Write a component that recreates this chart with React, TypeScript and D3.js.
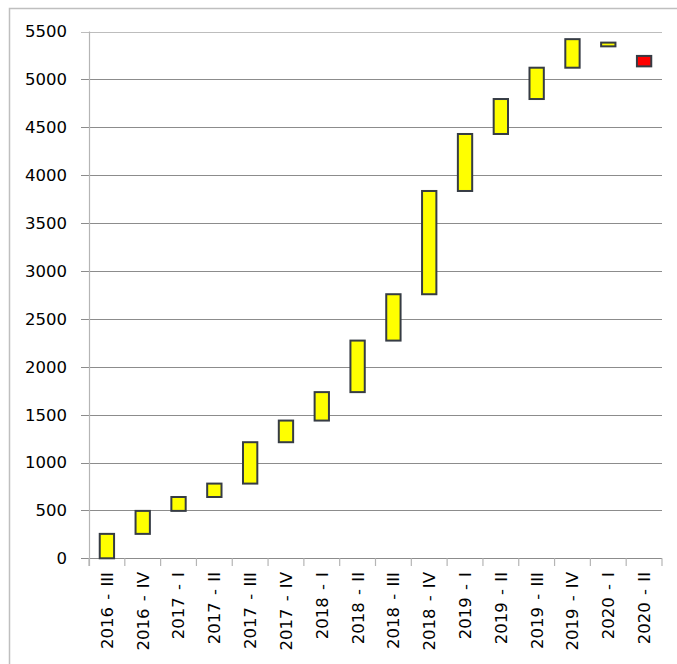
import React from "react";
import * as d3 from "d3";

const categories = [
  "2016 - III", "2016 - IV", "2017 - I", "2017 - II", "2017 - III", "2017 - IV",
  "2018 - I", "2018 - II", "2018 - III", "2018 - IV", "2019 - I", "2019 - II",
  "2019 - III", "2019 - IV", "2020 - I", "2020 - II",
];
const barLow = [0, 255, 495, 640, 780, 1212, 1438, 1735, 2273, 2757, 3835, 4430, 4795, 5122, 5345, 5136];
const barHigh = [255, 495, 640, 780, 1212, 1438, 1735, 2273, 2757, 3835, 4430, 4795, 5122, 5420, 5384, 5245];
const isDecrease = [false, false, false, false, false, false, false, false, false, false, false, false, false, false, false, true];
const yTicks = [0, 500, 1000, 1500, 2000, 2500, 3000, 3500, 4000, 4500, 5000, 5500];

const W = 677;
const H = 664;
const left = 89;
const right = 662;
const top = 31.5;
const bottom = 558.3;
const font = "'DejaVu Sans', sans-serif";

export default function App() {
  const x = d3.scaleBand<string>().domain(categories).range([left, right]).paddingInner(0.6).paddingOuter(0.3);
  const y = d3.scaleLinear().domain([0, 5500]).range([bottom, top]);
  const step = x.step();

  return (
    <svg width={W} height={H} style={{ position: "absolute", left: 0, top: 0, background: "#fff" }}>
      <rect x={9.5} y={8.5} width={W + 10} height={H + 10} fill="#fff" stroke="#bfbfbf" strokeWidth={1.5} />
      {yTicks.map((t) => (
        <g key={t}>
          <line
            x1={81}
            x2={right}
            y1={Math.round(y(t)) + 0.5}
            y2={Math.round(y(t)) + 0.5}
            stroke={t === 5500 ? "#bdbdbd" : "#8c8c8c"}
            strokeWidth={1.2}
          />
          <text
            x={67}
            y={y(t)}
            dy="0.36em"
            textAnchor="end"
            fontFamily={font}
            fontSize={16.5}
            fill="#000"
          >
            {t}
          </text>
        </g>
      ))}
      <line x1={89.5} x2={89.5} y1={top} y2={566} stroke="#b5b5b5" strokeWidth={1.2} />
      {d3.range(categories.length + 1).map((i) => (
        <line
          key={i}
          x1={left + i * step}
          x2={left + i * step}
          y1={bottom}
          y2={566}
          stroke="#b5b5b5"
          strokeWidth={1.2}
        />
      ))}
      {categories.map((c, i) => (
        <rect
          key={c}
          x={x(c)}
          y={y(barHigh[i])}
          width={x.bandwidth()}
          height={y(barLow[i]) - y(barHigh[i])}
          fill={isDecrease[i] ? "#ff0000" : "#ffff00"}
          stroke="#363c44"
          strokeWidth={2}
        />
      ))}
      {categories.map((c) => {
        const cx = (x(c) as number) + x.bandwidth() / 2;
        return (
          <text
            key={c}
            transform={`translate(${cx},572) rotate(-90)`}
            dy="0.36em"
            textAnchor="end"
            fontFamily={font}
            fontSize={16.5}
            wordSpacing={2}
            fill="#000"
          >
            {c}
          </text>
        );
      })}
    </svg>
  );
}
